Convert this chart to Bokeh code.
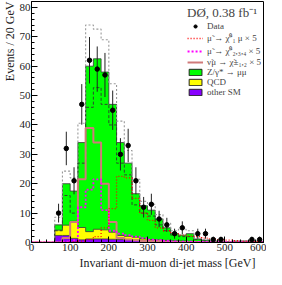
from bokeh.plotting import figure
from bokeh.models import Range1d, SingleIntervalTicker, Legend, LegendItem, Title
from bokeh.embed import file_html
from bokeh.resources import INLINE

# ---- data ----
bin_edges = [0, 20, 40, 60, 80, 100, 120, 140, 160, 180, 200, 220, 240, 260, 280, 300,
             320, 340, 360, 380, 400, 420, 440, 460, 480, 500, 520, 540, 560, 580, 600]
other_sm = [0, 0, 0, 2.4, 2.4, 1.4, 0.9, 1.2, 1.2, 1.2, 1.1, 1.0, 1.0, 0.8, 0.6, 0.5,
            0.4, 0.3, 0.3, 0.2, 0.2, 0.15, 0.1, 0.1, 0.1, 0.05, 0.05, 0.05, 0.05, 0.05]
qcd = [0, 0, 0, 1.8, 3.5, 5.8, 4.2, 2.5, 3.3, 3.1, 2.4, 1.4, 1.1, 1.0, 0.6, 0.5,
       0.5, 0.4, 0.3, 0.3, 0.2, 0.15, 0.2, 0.1, 0.1, 0.05, 0.05, 0.05, 0.05, 0.05]
zgamma = [0, 0, 0, 1.8, 14.1, 10.3, 28.9, 56.3, 58.0, 53.7, 43.5, 31.6, 24.9, 14.8, 11.3, 10.0,
          7.1, 4.3, 2.4, 2.0, 2.6, 0.9, 0.5, 0.3, 0.2, 0.1, 0.4, 0.4, 0.5, 0.3]
sig_chi1 = [0, 0, 0, 0, 0, 0.3, 0.5, 1, 2, 5, 11.5, 22.5, 22, 15, 10, 7.5,
            5, 4, 3, 2.5, 2.2, 2, 1.5, 1.2, 1, 0.8, 0.6, 0.5, 0.4, 0.3]
sig_chi234 = [0, 0, 0, 0, 0.3, 0.8, 12, 18, 21.5, 11, 4, 3, 2.5, 2, 1.5, 1,
              0.8, 0.6, 0.4, 0.3, 0.3, 0.2, 0.2, 0.1, 0.1, 0.1, 0.1, 0.1, 0, 0]
sig_snu = [0, 0, 0, 0, 1.5, 7, 21.5, 39, 34, 20, 7, 1.5, 1, 0.8, 0.5, 0.4,
           0.3, 0.2, 0.2, 0.1, 0.1, 0.1, 0, 0, 0, 0, 0, 0, 0, 0]
sm_plus_signal = [0, 0, 0, 8.6, 24.3, 22, 40.6, 74, 72.6, 69, 54, 41.3, 31.3, 21.5, 14, 13,
                  9.5, 6.5, 4, 4.5, 4, 1.5, 1, 0.6, 0.5, 0.3, 0.6, 0.6, 0.7, 0.5]
sm_alt = [0, 0, 0, 4, 16, 10, 27, 46, 52.7, 47, 40, 27, 23, 12.8, 10, 9,
          6, 4, 2.5, 2, 2, 1, 0.6, 0.4, 0.3, 0.2, 0.3, 0.3, 0.4, 0.3]
data_mass = [70, 90, 110, 130, 150, 170, 190, 210, 230, 250, 270, 290, 310, 330, 350, 370,
             390, 430, 450, 470, 490, 570, 590]
data_events = [10, 32, 21, 47, 62, 59, 57, 45, 30, 33, 21, 12, 13, 8, 6, 3,
               5, 3, 3, 1, 1, 1, 1]
data_err = [3.2, 5.7, 4.6, 6.9, 7.9, 7.7, 7.5, 6.7, 5.5, 5.7, 4.6, 3.5, 3.6, 2.8, 2.4, 1.7,
            2.2, 1.7, 1.7, 1.0, 1.0, 1.0, 1.0]

FONT = "Liberation Serif"
NAN = float("nan")

def ext(v):
    return list(v) + [v[-1]]

lvl1 = list(other_sm)
lvl2 = [a + b for a, b in zip(lvl1, qcd)]
lvl3 = [a + b for a, b in zip(lvl2, zgamma)]
zeros = [0.0] * len(other_sm)

p = figure(width=266, height=269, output_backend="svg", toolbar_location=None,
           x_range=Range1d(0, 600), y_range=Range1d(0, 82),
           min_border_left=2, min_border_right=3, min_border_top=1, min_border_bottom=0)
p.grid.visible = False
p.outline_line_color = "black"
p.outline_line_width = 1
p.background_fill_color = "white"

GREEN, YELLOW, PURPLE = "#00ff00", "#ffff00", "#8800ff"

p.varea_step(x=bin_edges, y1=ext(zeros), y2=ext(lvl1), step_mode="after", fill_color=PURPLE)
p.varea_step(x=bin_edges, y1=ext(lvl1), y2=ext(lvl2), step_mode="after", fill_color=YELLOW)
p.varea_step(x=bin_edges, y1=ext(lvl2), y2=ext(lvl3), step_mode="after", fill_color=GREEN)
for lv in (lvl1, lvl2, lvl3):
    p.step(x=bin_edges, y=ext(lv), mode="after", line_color="#333333", line_width=0.8)

# legend-only box renderers (no visible data)
r_z = p.quad(left=[NAN], right=[NAN], top=[NAN], bottom=[NAN], fill_color=GREEN, line_color="#222222", line_width=1)
r_q = p.quad(left=[NAN], right=[NAN], top=[NAN], bottom=[NAN], fill_color=YELLOW, line_color="#222222", line_width=1)
r_o = p.quad(left=[NAN], right=[NAN], top=[NAN], bottom=[NAN], fill_color=PURPLE, line_color="#222222", line_width=1)

p.step(x=bin_edges, y=ext(sm_alt), mode="after", line_color="#2b4a2b", line_width=1, line_dash="3 2")
p.step(x=bin_edges, y=ext(sm_plus_signal), mode="after", line_color="#999999", line_width=1.1, line_dash="2 2")

r_snu = p.step(x=bin_edges, y=ext(sig_snu), mode="after", line_color="#d07a7a", line_width=2)
r_c234 = p.step(x=bin_edges, y=ext(sig_chi234), mode="after", line_color="#ff00ff", line_width=1.8, line_dash="2 2")
r_c1 = p.step(x=bin_edges, y=ext(sig_chi1), mode="after", line_color="#ff0000", line_width=1.3, line_dash="1 2")

lo = [d - e for d, e in zip(data_events, data_err)]
hi = [d + e for d, e in zip(data_events, data_err)]
p.segment(x0=data_mass, y0=lo, x1=data_mass, y1=hi, line_color="#222222", line_width=1)
r_data = p.scatter(x=data_mass, y=data_events, size=4.5, color="black")

# axes
p.xaxis.ticker = SingleIntervalTicker(interval=100, num_minor_ticks=5)
p.yaxis.ticker = SingleIntervalTicker(interval=10, num_minor_ticks=5)
for ax in (p.xaxis, p.yaxis):
    ax.major_tick_in = 6
    ax.major_tick_out = 0
    ax.minor_tick_in = 3
    ax.minor_tick_out = 0
    ax.axis_line_color = "black"
    ax.major_label_text_font = FONT
    ax.major_label_text_font_size = "11px"
    ax.major_label_text_color = "#222222"
    ax.major_label_standoff = 1

p.add_layout(Title(text="Invariant di-muon di-jet mass [GeV]", align="right",
                   text_font=FONT, text_font_size="12px", text_font_style="normal",
                   text_color="#222222", standoff=0, offset=8), "below")
p.add_layout(Title(text="Events / 20 GeV", align="right",
                   text_font=FONT, text_font_size="12px", text_font_style="normal",
                   text_color="#222222", standoff=0, offset=0), "left")

legend = Legend(items=[
    LegendItem(label="Data", renderers=[r_data]),
    LegendItem(label="μ̃ → χ̃⁰₁ μ × 5", renderers=[r_c1]),
    LegendItem(label="μ̃ → χ̃⁰₂,₃,₄ × 5", renderers=[r_c234]),
    LegendItem(label="ν̃μ → χ̃±₁,₂ × 5", renderers=[r_snu]),
    LegendItem(label="Z/γ* → μμ", renderers=[r_z]),
    LegendItem(label="QCD", renderers=[r_q]),
    LegendItem(label="other SM", renderers=[r_o]),
], location="top_right")
legend.title = "DØ, 0.38 fb⁻¹"
legend.title_text_font = FONT
legend.title_text_font_size = "13px"
legend.title_text_font_style = "normal"
legend.title_standoff = 0
legend.label_text_font = FONT
legend.label_text_font_size = "9px"
legend.label_height = 8
legend.label_standoff = 4
legend.glyph_width = 16
legend.glyph_height = 8
legend.spacing = 0
legend.padding = 1
legend.margin = 1
legend.border_line_alpha = 0
legend.background_fill_alpha = 0
p.add_layout(legend)

open("out.html", "w").write(file_html(p, INLINE))
